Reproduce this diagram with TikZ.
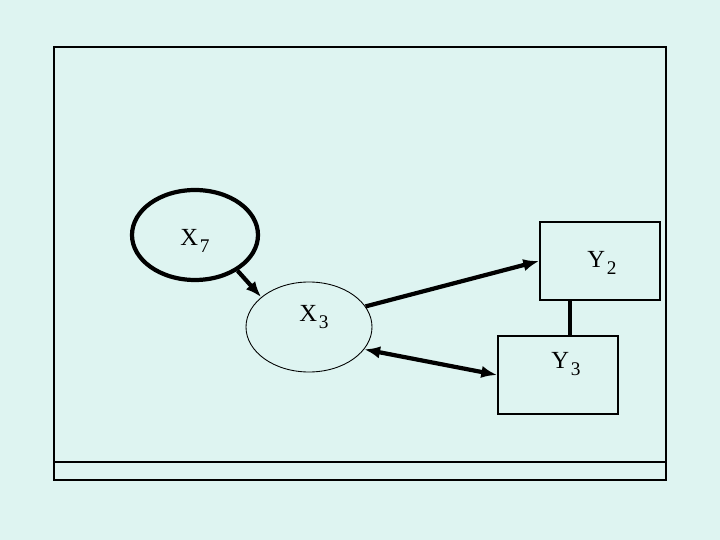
\documentclass[tikz,border=0pt]{standalone}
\usepackage{fontspec}
\setmainfont{Liberation Serif}
\usetikzlibrary{arrows.meta,shapes.geometric}
\definecolor{slidebg}{RGB}{222,244,241}
\newcommand{\lowsub}[1]{\kern1pt\raisebox{-4pt}{\fontsize{11}{13}\selectfont #1}}
\begin{document}
\begin{tikzpicture}[x=0.02cm, y=-0.02cm, font=\fontsize{14}{16}\selectfont,
    latent/.style={ellipse, draw, line width=0.5pt, minimum width=126*0.02cm, minimum height=90*0.02cm, inner sep=0pt},
    observed/.style={rectangle, draw, line width=1pt, minimum width=120*0.02cm, minimum height=78*0.02cm, inner sep=0pt},
    link/.style={line width=2.4pt},
    tip/.style={-{Latex[length=9pt,width=7pt]}, line width=2.4pt}]
  % Background and slide frame
  \fill[slidebg] (0,0) rectangle (720,540);
  \useasboundingbox (0,0) rectangle (720,540);
  \draw[line width=1pt] (54,47) rectangle (666,480);
  \draw[line width=1pt] (54,462) -- (666,462);
  % Latent variables
  \node[latent, line width=2.4pt] (x7) at (195,235) {};
  \node[latent] (x3) at (309,327) {};
  % Observed variables
  \node[observed] (y2) at (600,261) {};
  \node[observed] (y3) at (558,375) {};
  % Labels
  \node (lx7) at (195,241) {X\lowsub{7}};
  \node (lx3) at (314,317) {X\lowsub{3}};
  \node (ly2) at (602,263) {Y\lowsub{2}};
  \node (ly3) at (566,364) {Y\lowsub{3}};
  % Paths
  \draw[tip] (x7.-40) -- (x3.148);
  \draw[tip] (x3.20) -- (y2.west);
  \draw[tip, {Latex[length=9pt,width=7pt]}-{Latex[length=9pt,width=7pt]}] (x3.-22) -- (y3.west);
  \draw[link] ([xshift=-30*0.02cm]y2.south) -- ([xshift=-30*0.02cm]y2.south |- y3.north);
\end{tikzpicture}
\end{document}
